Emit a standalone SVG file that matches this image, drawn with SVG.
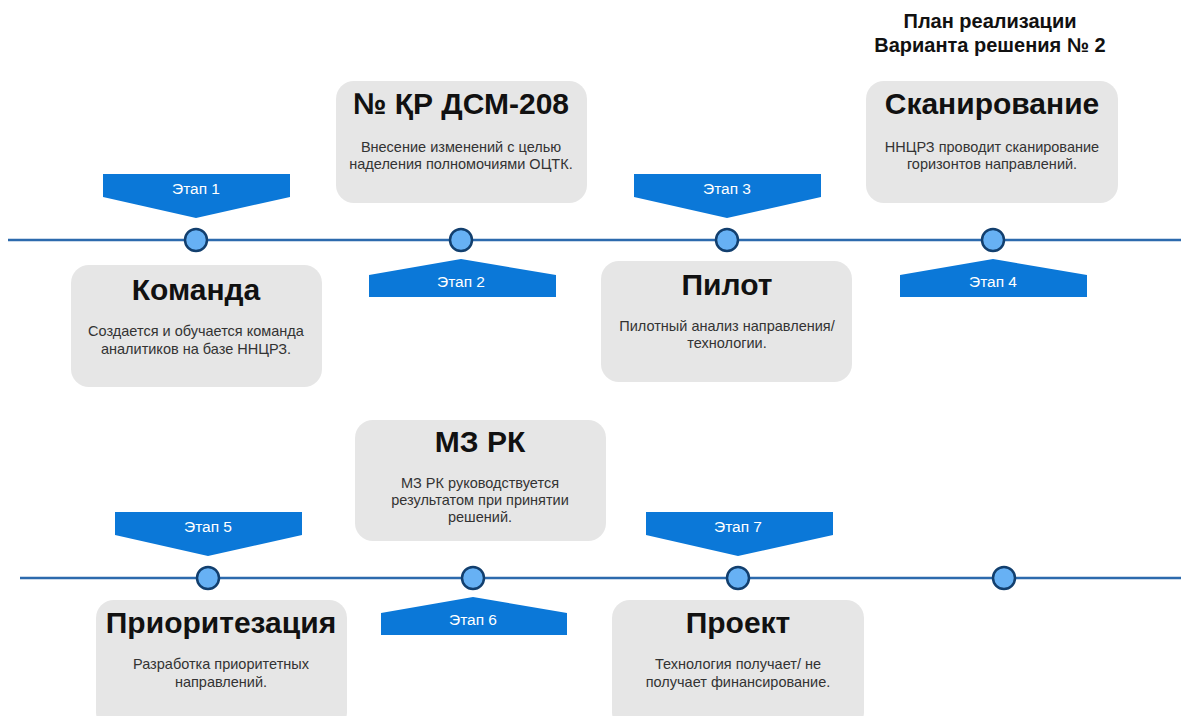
<svg xmlns="http://www.w3.org/2000/svg" width="1181" height="716" viewBox="0 0 1181 716">
<style>
.card{fill:#e6e6e6}
.title{font-family:"Liberation Sans",Arial,sans-serif;font-weight:bold;font-size:30px;fill:#111;text-anchor:middle}
.desc{font-family:"Liberation Sans",Arial,sans-serif;font-size:14.5px;fill:#333;text-anchor:middle}
.head{font-family:"Liberation Sans",Arial,sans-serif;font-weight:bold;font-size:20px;fill:#111;text-anchor:middle}
.stage{fill:#0b78d8}
.stxt{font-family:"Liberation Sans",Arial,sans-serif;font-size:15.5px;fill:#fff;text-anchor:middle}
.line{stroke:#2c6aad;stroke-width:2.5;fill:none}
.dot{fill:#67b1f4;stroke:#123f6e;stroke-width:2.5}
</style>
<g id="header">
<text class="head" x="990" y="28">План реализации</text>
<text class="head" x="990" y="52">Варианта решения № 2</text>
</g>
<g id="connectors">
<line class="line" x1="8" y1="240" x2="1181" y2="240"/>
<line class="line" x1="20" y1="578" x2="1181" y2="578"/>
</g>
<g id="dots">
<circle class="dot" cx="196" cy="240" r="11"/>
<circle class="dot" cx="461" cy="240" r="11"/>
<circle class="dot" cx="727" cy="240" r="11"/>
<circle class="dot" cx="993" cy="240" r="11"/>
<circle class="dot" cx="208" cy="578" r="11"/>
<circle class="dot" cx="473" cy="578" r="11"/>
<circle class="dot" cx="738" cy="578" r="11"/>
<circle class="dot" cx="1004" cy="578" r="11"/>
</g>
<g id="stage1"><polygon class="stage" points="103,174 290,174 290,197 196,218 103,197"/><text class="stxt" x="196" y="194">Этап 1</text></g>
<g id="stage2"><polygon class="stage" points="369,275 461,259 556,275 556,297 369,297"/><text class="stxt" x="461" y="287">Этап 2</text></g>
<g id="stage3"><polygon class="stage" points="634,174 821,174 821,197 727,218 634,197"/><text class="stxt" x="727" y="194">Этап 3</text></g>
<g id="stage4"><polygon class="stage" points="900,275 993,259 1087,275 1087,297 900,297"/><text class="stxt" x="993" y="287">Этап 4</text></g>
<g id="stage5"><polygon class="stage" points="115,512 302,512 302,535 208,556 115,535"/><text class="stxt" x="208" y="532">Этап 5</text></g>
<g id="stage6"><polygon class="stage" points="381,613 473,597 567,613 567,635 381,635"/><text class="stxt" x="473" y="625">Этап 6</text></g>
<g id="stage7"><polygon class="stage" points="646,512 833,512 833,535 738,556 646,535"/><text class="stxt" x="738" y="532">Этап 7</text></g>
<g id="card-komanda">
<rect class="card" x="71" y="265" width="251" height="122" rx="18"/>
<text class="title" x="196" y="300">Команда</text>
<text class="desc" x="196" y="336">Создается и обучается команда</text>
<text class="desc" x="196" y="354">аналитиков на базе ННЦРЗ.</text>
</g>
<g id="card-dsm">
<rect class="card" x="336" y="81" width="251" height="122" rx="18"/>
<text class="title" x="461" y="114">№ ҚР ДСМ-208</text>
<text class="desc" x="461" y="152">Внесение изменений с целью</text>
<text class="desc" x="461" y="169">наделения полномочиями ОЦТК.</text>
</g>
<g id="card-pilot">
<rect class="card" x="601" y="261" width="251" height="121" rx="18"/>
<text class="title" x="727" y="295">Пилот</text>
<text class="desc" x="727" y="331">Пилотный анализ направления/</text>
<text class="desc" x="727" y="348">технологии.</text>
</g>
<g id="card-scan">
<rect class="card" x="866" y="81" width="252" height="122" rx="18"/>
<text class="title" x="992" y="114">Сканирование</text>
<text class="desc" x="992" y="152">ННЦРЗ проводит сканирование</text>
<text class="desc" x="992" y="169">горизонтов направлений.</text>
</g>
<g id="card-mz">
<rect class="card" x="355" y="420" width="251" height="121" rx="18"/>
<text class="title" x="480" y="452">МЗ РК</text>
<text class="desc" x="480" y="488">МЗ РК руководствуется</text>
<text class="desc" x="480" y="505">результатом при принятии</text>
<text class="desc" x="480" y="522">решений.</text>
</g>
<g id="card-prior">
<rect class="card" x="96" y="600" width="251" height="130" rx="18"/>
<text class="title" x="221" y="633">Приоритезация</text>
<text class="desc" x="221" y="669">Разработка приоритетных</text>
<text class="desc" x="221" y="687">направлений.</text>
</g>
<g id="card-project">
<rect class="card" x="612" y="600" width="252" height="130" rx="18"/>
<text class="title" x="738" y="633">Проект</text>
<text class="desc" x="738" y="669">Технология получает/ не</text>
<text class="desc" x="738" y="687">получает финансирование.</text>
</g>
</svg>
